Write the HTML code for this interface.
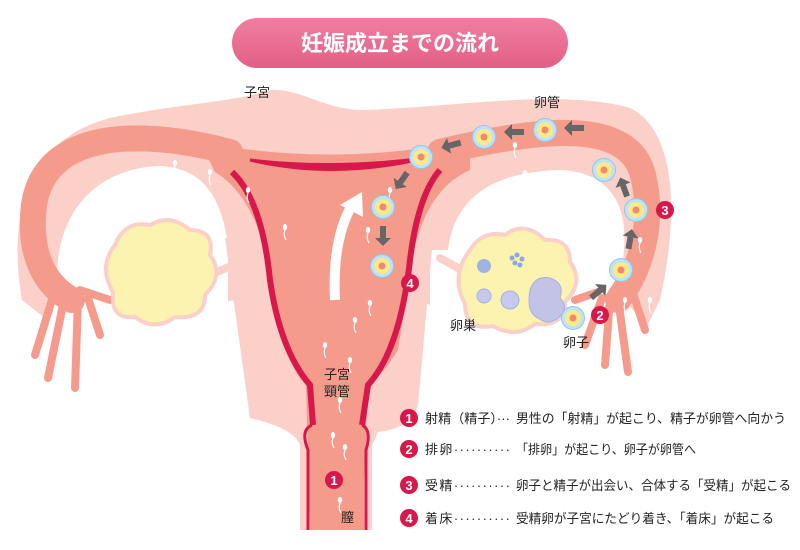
<!DOCTYPE html>
<html><head><meta charset="utf-8"><style>
body{margin:0;background:#fff;}
svg{display:block;font-family:"Liberation Sans","Noto Sans CJK JP",sans-serif;}
</style></head><body>
<svg width="800" height="550" viewBox="0 0 800 550">
<defs>
<linearGradient id="tg" x1="0" y1="0" x2="0" y2="1"><stop offset="0" stop-color="#ef7fa0"/><stop offset="1" stop-color="#e35f86"/></linearGradient>
<g id="egg"><circle r="11.5" fill="#bfe2f5" stroke="#8fc8ea" stroke-width="1"/><circle r="8" fill="#fce98c"/><circle r="3.5" fill="#f08a6a"/></g>
<g id="sp"><ellipse rx="2.2" ry="3" fill="#fff"/><path d="M0,3 q-2,5 1,10" stroke="#fff" stroke-width="1.2" fill="none"/></g>
<g id="ar"><path d="M-9,-3 L3,-3 L3,-8 L11,0 L3,8 L3,3 L-9,3 Z" fill="#666"/></g>
</defs>
<rect x="232" y="18" width="336" height="50" rx="25" fill="url(#tg)"/>
<text x="400" y="51" font-size="22" fill="#fff" text-anchor="middle" font-weight="bold">妊娠成立までの流れ</text>

<!-- big light pink upper shape -->
<path d="M22,300 C8,220 25,140 110,118 C170,105 235,102 270,90 C300,88 320,108 360,110 C450,108 560,88 630,108 C675,130 680,210 660,300 L640,340 L590,330 L460,320 L420,300 L235,300 L60,330 Z" fill="#fbd0c9"/>
<!-- white holes -->
<path d="M58,295 C50,215 95,168 160,166 C205,168 222,200 228,245 L228,550 L0,550 L0,335 L40,325 Z" fill="#fff"/>
<path d="M448,250 C455,195 495,172 560,170 C610,172 628,205 624,250 L620,295 L655,335 L800,335 L800,550 L430,550 L430,250 Z" fill="#fff"/>
<!-- lower body -->
<path d="M225,238 L433,238 L418,405 Q412,428 378,432 L372,445 L372,530 L300,530 L300,445 Q294,428 250,418 Z" fill="#fbd0c9"/>

<g fill="none" stroke-linecap="round">
<path d="M230,152 C140,128 45,130 34,205 C28,255 45,285 72,300" stroke="#f59b8c" stroke-width="26"/>
<path d="M440,152 C540,128 628,118 643,175 C655,225 640,270 618,300" stroke="#f59b8c" stroke-width="26"/>
<g stroke="#f59b8c" stroke-width="8">
<path d="M55,290 L35,355"/><path d="M65,295 L48,378"/><path d="M78,300 L75,388"/><path d="M88,298 L100,335"/><path d="M80,290 L110,300"/>
<path d="M618,298 L628,372"/><path d="M610,298 L605,365"/><path d="M602,298 L585,345"/><path d="M598,292 L575,300"/><path d="M632,290 L645,330"/>
</g>
<path d="M210,275 L240,262" stroke="#fbd0c9" stroke-width="8"/>
<path d="M458,268 L440,258" stroke="#fbd0c9" stroke-width="8"/>
</g>
<!-- cavity -->
<path d="M200,142 Q335,168 470,140 L470,170 Q425,190 412,260 L398,350 Q385,372 368,385 L362,530 L310,530 L306,385 Q285,365 275,300 Q262,200 215,172 Z" fill="#f59b8c"/>
<path d="M250,160 Q335,180 425,158 Q335,170 250,160 Z" fill="#d8174a" stroke="#d8174a" stroke-width="3"/>
<g fill="none" stroke="#d8174a" stroke-width="6">
<path d="M232,172 Q262,200 270,280 Q280,350 310,385 L313,425"/>
<path d="M440,170 Q418,195 410,260 Q400,350 368,385 L362,425"/>
</g>
<path d="M312,427 Q304,432 310,450 L310,530 L364,530 L364,450 Q370,432 362,427 Z" fill="#f59b8c"/>
<path d="M312,425 Q300,430 308,450 L308,530 M362,425 Q372,430 366,450 L366,530" stroke="#d8174a" stroke-width="3" fill="none"/>

<!-- ovaries -->
<path d="M115,245 q10,-25 35,-20 q20,-12 40,5 q25,0 20,25 q15,20 -5,40 q0,25 -30,22 q-20,15 -40,0 q-25,3 -22,-25 q-15,-25 2,-47z" fill="#fdf3b0" stroke="#fbd0c9" stroke-width="4"/>
<path d="M470,250 q12,-20 35,-15 q20,-15 40,5 q25,-2 25,22 q15,20 -5,40 q0,25 -30,22 q-20,15 -42,2 q-28,5 -28,-22 q-15,-28 5,-54z" fill="#fdf3b0" stroke="#fbd0c9" stroke-width="4"/>
<circle cx="484" cy="266" r="7" fill="#9fb4e0"/><circle cx="484" cy="296" r="7" fill="#c6c8ef" stroke="#9fb4e0"/><circle cx="510" cy="300" r="9" fill="#c6c8ef" stroke="#9fb4e0"/>
<g fill="#8ea8de"><circle cx="512" cy="258" r="2.5"/><circle cx="517" cy="255" r="2.5"/><circle cx="522" cy="259" r="2.5"/><circle cx="515" cy="263" r="2.5"/><circle cx="520" cy="265" r="2.5"/></g>
<path d="M530,290 q5,-15 20,-12 q15,5 10,20 q10,10 -2,20 q-10,8 -20,0 q-12,-5 -8,-28z" fill="#c3c3e8" stroke="#9fb4e0"/>

<!-- sperm -->
<g>
<use href="#sp" x="175" y="163"/><use href="#sp" x="210" y="172"/><use href="#sp" x="248" y="190"/><use href="#sp" x="285" y="227"/><use href="#sp" x="390" y="190"/><use href="#sp" x="368" y="230"/><use href="#sp" x="370" y="303"/><use href="#sp" x="355" y="320"/><use href="#sp" x="325" y="345"/><use href="#sp" x="350" y="360"/><use href="#sp" x="340" y="400"/><use href="#sp" x="333" y="435"/><use href="#sp" x="345" y="447"/><use href="#sp" x="340" y="500"/><use href="#sp" x="515" y="145"/><use href="#sp" x="525" y="173"/><use href="#sp" x="640" y="240"/><use href="#sp" x="625" y="300"/><use href="#sp" x="650" y="300"/>
</g>
<!-- white arrow -->
<path d="M335,300 Q332,240 352,205" stroke="#fff" stroke-width="10" fill="none"/>
<path d="M340,205 L362,192 L363,217 Z" fill="#fff"/>

<!-- eggs -->
<use href="#egg" x="573" y="318"/><use href="#egg" x="621" y="270"/><use href="#egg" x="636" y="210"/>
<use href="#egg" x="604" y="170"/><use href="#egg" x="545" y="130"/><use href="#egg" x="484" y="137"/><use href="#egg" x="421" y="157"/><use href="#egg" x="383" y="207"/><use href="#egg" x="382" y="266"/>
<use href="#ar" transform="translate(598,292) rotate(-40)"/>
<use href="#ar" transform="translate(630,240) rotate(-80)"/>
<use href="#ar" transform="translate(624,188) rotate(-110)"/>
<use href="#ar" transform="translate(575,128) rotate(180)"/>
<use href="#ar" transform="translate(515,132) rotate(180)"/>
<use href="#ar" transform="translate(452,145) rotate(165)"/>
<use href="#ar" transform="translate(402,180) rotate(125)"/>
<use href="#ar" transform="translate(383,235) rotate(90)"/>

<!-- badges -->
<g font-size="13" fill="#fff" text-anchor="middle" font-weight="bold">
<circle cx="334" cy="480" r="9" fill="#d8174a"/><text x="334" y="485">1</text>
<circle cx="600" cy="315" r="9" fill="#d8174a"/><text x="600" y="320">2</text>
<circle cx="665" cy="210" r="9" fill="#d8174a"/><text x="665" y="215">3</text>
<circle cx="410" cy="283" r="9" fill="#d8174a"/><text x="410" y="288">4</text>
</g>
<g font-size="13" fill="#222">
<text x="244" y="97">子宮</text><text x="534" y="107">卵管</text><text x="450" y="330">卵巣</text><text x="563" y="347">卵子</text>
<text x="324" y="379">子宮</text><text x="324" y="396">頸管</text><text x="341" y="522">膣</text>
</g>
<g font-size="13" fill="#222">
<circle cx="409" cy="418" r="9" fill="#d8174a"/><circle cx="409" cy="449" r="9" fill="#d8174a"/><circle cx="409" cy="485" r="9" fill="#d8174a"/><circle cx="409" cy="518" r="9" fill="#d8174a"/>
<g fill="#fff" text-anchor="middle" font-weight="bold"><text x="409" y="423">1</text><text x="409" y="454">2</text><text x="409" y="490">3</text><text x="409" y="523">4</text></g>
<text x="425" y="423" textLength="85" lengthAdjust="spacingAndGlyphs">射精（精子）···</text><text x="516" y="423" textLength="270" lengthAdjust="spacingAndGlyphs">男性の「射精」が起こり、精子が卵管へ向かう</text>
<text x="425" y="454" textLength="85">排卵··········</text><text x="516" y="454" textLength="180" lengthAdjust="spacingAndGlyphs">「排卵」が起こり、卵子が卵管へ</text>
<text x="425" y="490" textLength="85">受精··········</text><text x="516" y="490" textLength="275" lengthAdjust="spacingAndGlyphs">卵子と精子が出会い、合体する「受精」が起こる</text>
<text x="425" y="523" textLength="85">着床··········</text><text x="516" y="523" textLength="258" lengthAdjust="spacingAndGlyphs">受精卵が子宮にたどり着き、「着床」が起こる</text>
</g>
</svg>
</body></html>
